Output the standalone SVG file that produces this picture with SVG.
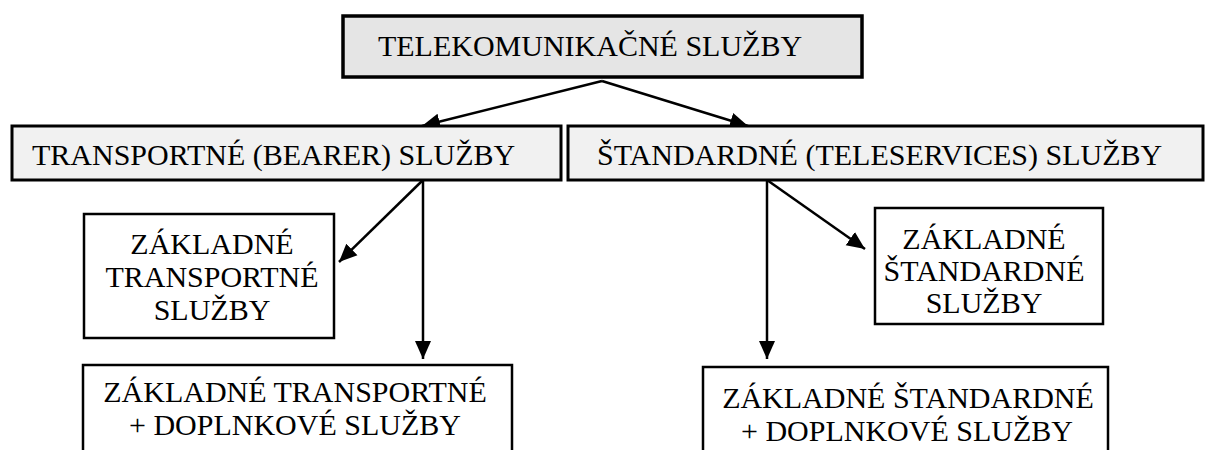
<svg xmlns="http://www.w3.org/2000/svg" width="1205" height="450" viewBox="0 0 1205 450">
  <style>
    .lbl { font-family: "Liberation Serif", "Times New Roman", serif; font-size: 30px; fill: #000; }
    .c { text-anchor: middle; }
    .box { stroke: #000; }
    .top { fill: #e5e5e5; stroke-width: 3.5; }
    .mid { fill: #f1f1f1; stroke-width: 3; }
    .leaf { fill: #fff; stroke-width: 2.5; }
    .edge { stroke: #000; stroke-width: 2.5; fill: none; marker-end: url(#head); }
  </style>
  <defs>
    <marker id="head" markerUnits="userSpaceOnUse" markerWidth="20" markerHeight="20" viewBox="0 0 20 20" refX="18" refY="10" orient="auto">
      <path d="M0,2 L18,10 L0,18 Z" fill="#000"/>
    </marker>
  </defs>
  <rect width="1205" height="450" fill="#fff"/>

  <g id="connectors">
    <line class="edge" x1="602" y1="81" x2="422" y2="126"/>
    <line class="edge" x1="602" y1="81" x2="748" y2="126"/>
    <line class="edge" x1="423" y1="180" x2="339" y2="262"/>
    <line class="edge" x1="423" y1="180" x2="423" y2="359"/>
    <line class="edge" x1="767" y1="180" x2="865" y2="249"/>
    <line class="edge" x1="767" y1="180" x2="767" y2="359"/>
  </g>

  <g id="telekomunikacne-sluzby">
    <rect class="box top" x="343" y="16" width="519" height="61"/>
    <text class="lbl c" x="590" y="56">TELEKOMUNIKAČNÉ SLUŽBY</text>
  </g>

  <g id="transportne-sluzby">
    <rect class="box mid" x="12" y="126" width="549" height="54"/>
    <text class="lbl" x="32" y="165">TRANSPORTNÉ (BEARER) SLUŽBY</text>
  </g>

  <g id="standardne-sluzby">
    <rect class="box mid" x="568" y="126" width="635" height="54"/>
    <text class="lbl" x="597" y="165">ŠTANDARDNÉ (TELESERVICES) SLUŽBY</text>
  </g>

  <g id="zakladne-transportne">
    <rect class="box leaf" x="84" y="214" width="250" height="124"/>
    <text class="lbl c" x="212" y="254">ZÁKLADNÉ</text>
    <text class="lbl c" x="212" y="287">TRANSPORTNÉ</text>
    <text class="lbl c" x="212" y="320">SLUŽBY</text>
  </g>

  <g id="zakladne-standardne">
    <rect class="box leaf" x="875" y="208" width="228" height="116"/>
    <text class="lbl c" x="984" y="249">ZÁKLADNÉ</text>
    <text class="lbl c" x="984" y="281">ŠTANDARDNÉ</text>
    <text class="lbl c" x="984" y="313">SLUŽBY</text>
  </g>

  <g id="transportne-doplnkove">
    <rect class="box leaf" x="83" y="365" width="429" height="100"/>
    <text class="lbl c" x="295" y="402">ZÁKLADNÉ TRANSPORTNÉ</text>
    <text class="lbl c" x="295" y="435">+ DOPLNKOVÉ SLUŽBY</text>
  </g>

  <g id="standardne-doplnkove">
    <rect class="box leaf" x="703" y="367" width="405" height="100"/>
    <text class="lbl c" x="908" y="408">ZÁKLADNÉ ŠTANDARDNÉ</text>
    <text class="lbl c" x="907" y="441">+ DOPLNKOVÉ SLUŽBY</text>
  </g>
</svg>
